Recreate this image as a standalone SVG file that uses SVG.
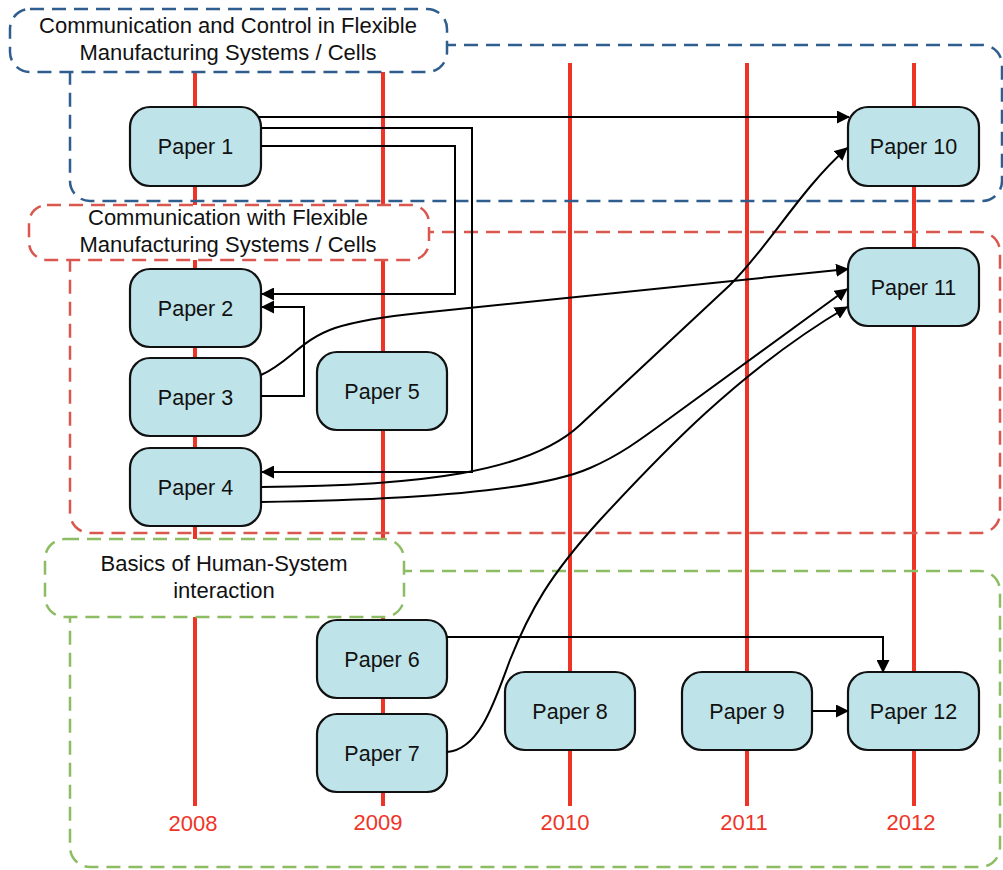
<svg xmlns="http://www.w3.org/2000/svg" width="1003" height="870" viewBox="0 0 1003 870">
  <style>
    .year-line { stroke: #ee3427; stroke-width: 4; }
    .year { fill: #ee3427; font-family: "Liberation Sans", Arial, sans-serif; font-size: 22px; text-anchor: middle; }
    .grp { fill: none; stroke-width: 2.5; stroke-dasharray: 14 8; }
    .grp-label { fill: #ffffff; stroke-width: 2.5; stroke-dasharray: 14 8; }
    .blue { stroke: #2f5e8e; }
    .red { stroke: #d9574f; }
    .green { stroke: #8dbd63; }
    .grp-text { fill: #111; font-family: "Liberation Sans", Arial, sans-serif; font-size: 22px; text-anchor: middle; }
    .node rect { fill: #bee3e9; stroke: #111; stroke-width: 2.2; }
    .node text { fill: #111; font-family: "Liberation Sans", Arial, sans-serif; font-size: 21.5px; text-anchor: middle; }
    .edge { fill: none; stroke: #000; stroke-width: 2; }
  </style>
  <defs>
    <marker id="arrow" markerUnits="userSpaceOnUse" markerWidth="13" markerHeight="13" refX="12" refY="6.5" orient="auto">
      <path d="M0,0 L13,6.5 L0,13 z" fill="#000"/>
    </marker>
  </defs>

  <rect width="1003" height="870" fill="#ffffff"/>

  <!-- timeline -->
  <g id="timeline">
    <line class="year-line" x1="195" y1="63" x2="195" y2="806"/>
    <line class="year-line" x1="383" y1="63" x2="383" y2="806"/>
    <line class="year-line" x1="570" y1="63" x2="570" y2="806"/>
    <line class="year-line" x1="747" y1="63" x2="747" y2="806"/>
    <line class="year-line" x1="914" y1="63" x2="914" y2="806"/>
    <text class="year" x="193" y="831">2008</text>
    <text class="year" x="378" y="830">2009</text>
    <text class="year" x="565" y="830">2010</text>
    <text class="year" x="744" y="830">2011</text>
    <text class="year" x="911" y="830">2012</text>
  </g>

  <!-- topic groups -->
  <g id="group-control">
    <rect class="grp blue" x="70" y="45" width="932" height="156" rx="20"/>
    <rect class="grp-label blue" x="10" y="9" width="437" height="63" rx="20"/>
    <text class="grp-text" x="228" y="33">Communication and Control in Flexible</text>
    <text class="grp-text" x="228" y="60">Manufacturing Systems / Cells</text>
  </g>
  <g id="group-communication">
    <rect class="grp red" x="70" y="232" width="930" height="301" rx="20"/>
    <rect class="grp-label red" x="29" y="205" width="400" height="55" rx="18"/>
    <text class="grp-text" x="228" y="225">Communication with Flexible</text>
    <text class="grp-text" x="228" y="252">Manufacturing Systems / Cells</text>
  </g>
  <g id="group-human">
    <rect class="grp green" x="70" y="571" width="930" height="296" rx="20"/>
    <rect class="grp-label green" x="45" y="539" width="359" height="78" rx="20"/>
    <text class="grp-text" x="224" y="571">Basics of Human-System</text>
    <text class="grp-text" x="224" y="598">interaction</text>
  </g>

  <!-- papers -->
  <g id="paper1" class="node"><rect x="130" y="107" width="131" height="79" rx="20"/><text x="195.5" y="154">Paper 1</text></g>
  <g id="paper2" class="node"><rect x="130" y="269" width="131" height="78" rx="20"/><text x="195.5" y="316">Paper 2</text></g>
  <g id="paper3" class="node"><rect x="130" y="358" width="131" height="78" rx="20"/><text x="195.5" y="405">Paper 3</text></g>
  <g id="paper4" class="node"><rect x="130" y="448" width="131" height="78" rx="20"/><text x="195.5" y="495">Paper 4</text></g>
  <g id="paper5" class="node"><rect x="317" y="352" width="130" height="78" rx="20"/><text x="382" y="399">Paper 5</text></g>
  <g id="paper6" class="node"><rect x="317" y="620" width="130" height="78" rx="20"/><text x="382" y="667">Paper 6</text></g>
  <g id="paper7" class="node"><rect x="317" y="714" width="130" height="78" rx="20"/><text x="382" y="761">Paper 7</text></g>
  <g id="paper8" class="node"><rect x="505" y="672" width="130" height="78" rx="20"/><text x="570" y="719">Paper 8</text></g>
  <g id="paper9" class="node"><rect x="682" y="672" width="130" height="78" rx="20"/><text x="747" y="719">Paper 9</text></g>
  <g id="paper10" class="node"><rect x="848" y="107" width="131" height="79" rx="20"/><text x="913.5" y="154">Paper 10</text></g>
  <g id="paper11" class="node"><rect x="848" y="248" width="131" height="78" rx="20"/><text x="913.5" y="295">Paper 11</text></g>
  <g id="paper12" class="node"><rect x="848" y="672" width="131" height="78" rx="20"/><text x="913.5" y="719">Paper 12</text></g>

  <!-- citations -->
  <g id="connectors">
    <path class="edge" d="M258,117 L849,117" marker-end="url(#arrow)"/>
    <path class="edge" d="M261,128 L472,128 L472,472 L262,472" marker-end="url(#arrow)"/>
    <path class="edge" d="M261,146 L455,146 L455,294 L262,294" marker-end="url(#arrow)"/>
    <path class="edge" d="M261,396 L304,396 L304,307 L262,307" marker-end="url(#arrow)"/>
    <path class="edge" d="M261,375 C290,362 300,340 335,328 C360,320 390,316 420,313 L848,269" marker-end="url(#arrow)"/>
    <path class="edge" d="M261,487 C420,486 530,472 580,425 L730,285 C770,245 800,190 847,148" marker-end="url(#arrow)"/>
    <path class="edge" d="M261,502 C420,500 540,490 590,468 C620,455 640,440 670,418 L847,289" marker-end="url(#arrow)"/>
    <path class="edge" d="M447,752 C480,750 495,700 510,660 C530,610 550,575 600,520 C660,455 740,370 847,307" marker-end="url(#arrow)"/>
    <path class="edge" d="M447,637 L883,637 L883,672" marker-end="url(#arrow)"/>
    <path class="edge" d="M812,711 L848,711" marker-end="url(#arrow)"/>
  </g>
</svg>
